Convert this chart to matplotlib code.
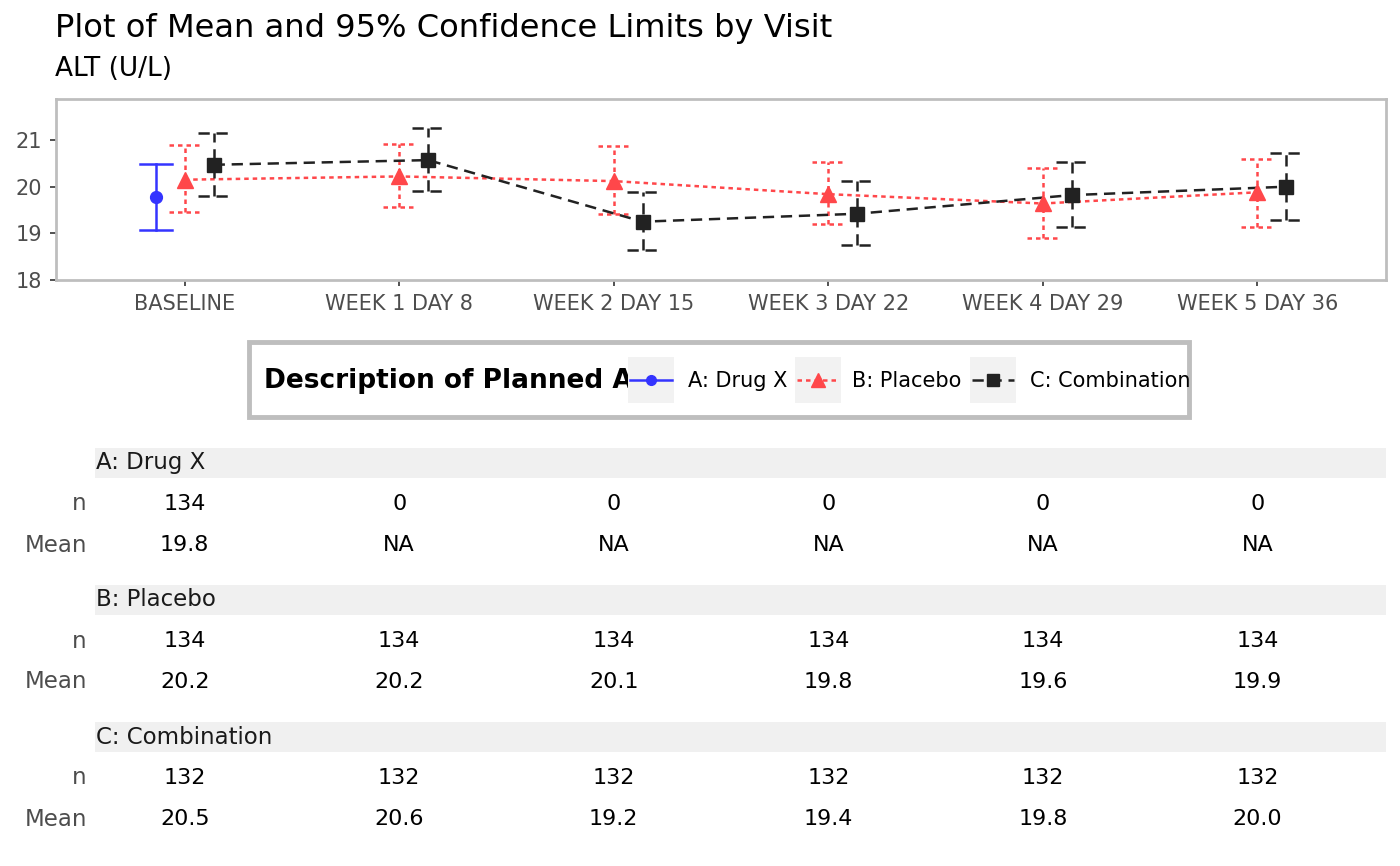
import numpy as np
import matplotlib
matplotlib.use("Agg")
import matplotlib.pyplot as plt
from matplotlib.patches import Rectangle
from matplotlib.lines import Line2D
from matplotlib.transforms import blended_transform_factory

visits = ["BASELINE", "WEEK 1 DAY 8", "WEEK 2 DAY 15", "WEEK 3 DAY 22", "WEEK 4 DAY 29", "WEEK 5 DAY 36"]
arms = ["A: Drug X", "B: Placebo", "C: Combination"]

# mean and 95% CI (nan = no data)
drug_mean = [19.78, np.nan, np.nan, np.nan, np.nan, np.nan]
drug_lo = [19.07, np.nan, np.nan, np.nan, np.nan, np.nan]
drug_hi = [20.49, np.nan, np.nan, np.nan, np.nan, np.nan]

plac_mean = [20.15, 20.22, 20.12, 19.84, 19.64, 19.88]
plac_lo = [19.46, 19.56, 19.42, 19.20, 18.90, 19.14]
plac_hi = [20.89, 20.92, 20.88, 20.53, 20.40, 20.60]

comb_mean = [20.47, 20.57, 19.25, 19.42, 19.82, 20.00]
comb_lo = [19.79, 19.90, 18.65, 18.76, 19.14, 19.29]
comb_hi = [21.15, 21.25, 19.89, 20.13, 20.53, 20.73]

# summary table
drug_n = ["134", "0", "0", "0", "0", "0"]
drug_tab_mean = ["19.8", "NA", "NA", "NA", "NA", "NA"]
plac_n = ["134", "134", "134", "134", "134", "134"]
plac_tab_mean = ["20.2", "20.2", "20.1", "19.8", "19.6", "19.9"]
comb_n = ["132", "132", "132", "132", "132", "132"]
comb_tab_mean = ["20.5", "20.6", "19.2", "19.4", "19.8", "20.0"]

W, H = 1400, 866
fig = plt.figure(figsize=(W / 100, H / 100), dpi=100)
fig.patch.set_facecolor("white")

def fx(px):
    return px / W

def fy(py):
    return 1 - py / H

ax = fig.add_axes([fx(56), fy(280), fx(1386) - fx(56), fy(99) - fy(280)])

styles = [
    dict(color="#3434FF", dashes=None, marker="o", ms=8.5, off=-0.135),
    dict(color="#FF474A", dashes=(1.8, 1.6), marker="^", ms=11, off=0.0),
    dict(color="#222222", dashes=(4.5, 2.7), marker="s", ms=9.5, off=0.135),
]
series = [
    (drug_mean, drug_lo, drug_hi),
    (plac_mean, plac_lo, plac_hi),
    (comb_mean, comb_lo, comb_hi),
]
x = np.arange(len(visits))
cap = 0.075
lw = 1.8

for (m, lo, hi), st in zip(series, styles):
    xs = x + st["off"]
    m = np.array(m); lo = np.array(lo); hi = np.array(hi)
    ls_kw = {"linestyle": "-"} if st["dashes"] is None else {"dashes": st["dashes"]}
    ok = ~np.isnan(m)
    for xi, l, h in zip(xs[ok], lo[ok], hi[ok]):
        ax.plot([xi, xi], [l, h], color=st["color"], lw=lw, **ls_kw)
        ax.plot([xi - cap, xi + cap], [l, l], color=st["color"], lw=lw, **ls_kw)
        ax.plot([xi - cap, xi + cap], [h, h], color=st["color"], lw=lw, **ls_kw)
    ax.plot(xs[ok], m[ok], color=st["color"], lw=lw, **ls_kw)
    ax.plot(xs[ok], m[ok], linestyle="none", marker=st["marker"], ms=st["ms"],
            color=st["color"], zorder=4)

ax.set_xlim(-0.6, 5.6)
ax.set_ylim(18, 21.88)
ax.set_yticks([18, 19, 20, 21])
ax.set_xticks(x)
ax.set_xticklabels(visits)
ax.tick_params(colors="#333333", labelcolor="#4D4D4D", labelsize=15, length=4, width=1.2, pad=6)
for s in ax.spines.values():
    s.set_color("#BEBEBE")
    s.set_linewidth(2)

fig.text(fx(55), fy(28), "Plot of Mean and 95% Confidence Limits by Visit", fontsize=23.1,
         va="center", ha="left", color="black")
fig.text(fx(55), fy(69), "ALT (U/L)", fontsize=19, va="center", ha="left", color="black")

# legend box
fig.patches.append(Rectangle((fx(249), fy(417)), fx(1189) - fx(249), fy(342) - fy(417),
                             transform=fig.transFigure, fill=False, edgecolor="#BEBEBE", lw=3.5))
title = fig.text(fx(264), fy(381), "Description of Planned Arm", fontsize=19, fontweight="bold",
                 va="center", ha="left")
clip = Rectangle((fx(250), fy(415)), fx(628) - fx(250), fy(345) - fy(415), transform=fig.transFigure)
title.set_clip_path(clip)
title.set_clip_on(True)

key_x = [628, 795, 970]
lab_x = [688, 852, 1030]
for kx, lx, st, arm in zip(key_x, lab_x, styles, arms):
    fig.patches.append(Rectangle((fx(kx), fy(403)), fx(46), fy(357) - fy(403),
                                 transform=fig.transFigure, facecolor="#F2F2F2", edgecolor="none"))
    ls_kw = {"linestyle": "-"} if st["dashes"] is None else {"dashes": st["dashes"]}
    fig.lines.append(Line2D([fx(kx + 2), fx(kx + 44)], [fy(380), fy(380)], transform=fig.transFigure,
                            color=st["color"], lw=lw, **ls_kw))
    fig.lines.append(Line2D([fx(kx + 23)], [fy(380)], transform=fig.transFigure, linestyle="none",
                            marker=st["marker"], ms=st["ms"] - 1.5, color=st["color"]))
    fig.text(fx(lx), fy(381), arm, fontsize=15, va="center", ha="left")

# table under the plot
tr = blended_transform_factory(ax.transData, fig.transFigure)
tables = [(drug_n, drug_tab_mean), (plac_n, plac_tab_mean), (comb_n, comb_tab_mean)]
strip_y = [463, 600, 737]
for arm, (nn, mm), sy in zip(arms, tables, strip_y):
    fig.patches.append(Rectangle((fx(95), fy(sy + 15)), fx(1386) - fx(95), fy(sy - 15) - fy(sy + 15),
                                 transform=fig.transFigure, facecolor="#F0F0F0", edgecolor="none"))
    fig.text(fx(96), fy(sy), arm, fontsize=16.5, va="center", ha="left", color="#1A1A1A")
    fig.text(fx(87), fy(sy + 41), "n", fontsize=16.5, va="center", ha="right", color="#4D4D4D")
    fig.text(fx(87), fy(sy + 82), "Mean", fontsize=16.5, va="center", ha="right", color="#4D4D4D")
    for xi, nv, mv in zip(x, nn, mm):
        fig.text(xi, fy(sy + 41), nv, transform=tr, fontsize=16, va="center", ha="center")
        fig.text(xi, fy(sy + 82), mv, transform=tr, fontsize=16, va="center", ha="center")

fig.savefig("out.png", dpi=100)
